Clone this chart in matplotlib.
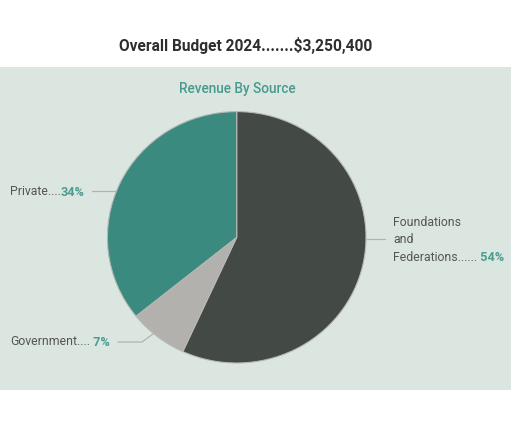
import numpy as np
import matplotlib
matplotlib.use("Agg")
import matplotlib.pyplot as plt
from matplotlib.patches import Rectangle

# data
sources = ["Foundations\nand\nFederations......", "Government....", "Private...."]
shares = [54, 7, 34]
pct_labels = [" 54%", " 7%", "34%"]
colors = ["#434944", "#b3b1ad", "#3a8a80"]

W, H = 511, 435
fig = plt.figure(figsize=(W / 100, H / 100), dpi=100)
fig.patch.set_facecolor("white")

plt.rcParams["font.family"] = ["Roboto", "DejaVu Sans"]

# light panel
fig.patches.append(Rectangle((0, 1 - 391 / H), 1, (391 - 68) / H,
                             transform=fig.transFigure, facecolor="#dce6e1",
                             edgecolor="none", zorder=-10))

fig.text(245.5 / W, 1 - 46 / H, "Overall Budget 2024.......$3,250,400",
         ha="center", va="center", fontsize=11.2, fontweight="bold", color="#2e2e2e")
fig.text(237 / W, 1 - 89 / H, "Revenue By Source", ha="center", va="center",
         fontsize=9.8, fontweight="medium", color="#479a8c")

# pie axes (slightly wider than tall, like the reference)
cx, cy, rx, ry = 236.7, 238.3, 129.3, 125.7
ax = fig.add_axes([(cx - rx) / W, 1 - (cy + ry) / H, 2 * rx / W, 2 * ry / H])
wedges, _ = ax.pie(shares, colors=colors, startangle=90, counterclock=False,
                   wedgeprops=dict(edgecolor="#b8b8b4", linewidth=0.8))
ax.set_aspect("auto")
ax.set_xlim(-1, 1)
ax.set_ylim(-1, 1)
ax.axis("off")

# label text positions (figure pixels) and where the leader lines meet the pie
label_pos = [(393, 240), (10, 342), (10, 192)]
line_pts = [
    [(385, 240), (367, 240)],
    [(118, 343), (142, 343), (153, 335)],
    [(92, 192), (116, 192)],
]

for i, (name, pct) in enumerate(zip(sources, pct_labels)):
    x, y = label_pos[i]
    t = fig.text(x / W, 1 - y / H, name, ha="left", va="center", fontsize=8.8,
                 color="#555555", linespacing=1.45)
    fig.canvas.draw()
    bb = t.get_window_extent()
    # percentage follows the last line of the label
    fig.text(bb.x1 / W, bb.y0 / H, pct, ha="left", va="bottom",
             fontsize=9.2, fontweight="bold", color="#4a9e90")
    xs = [p[0] / W for p in line_pts[i]]
    ys = [1 - p[1] / H for p in line_pts[i]]
    fig.add_artist(plt.Line2D(xs, ys, color="#b2b2b2", linewidth=0.9,
                              transform=fig.transFigure))

fig.savefig("out.png", dpi=100, facecolor=fig.get_facecolor())
